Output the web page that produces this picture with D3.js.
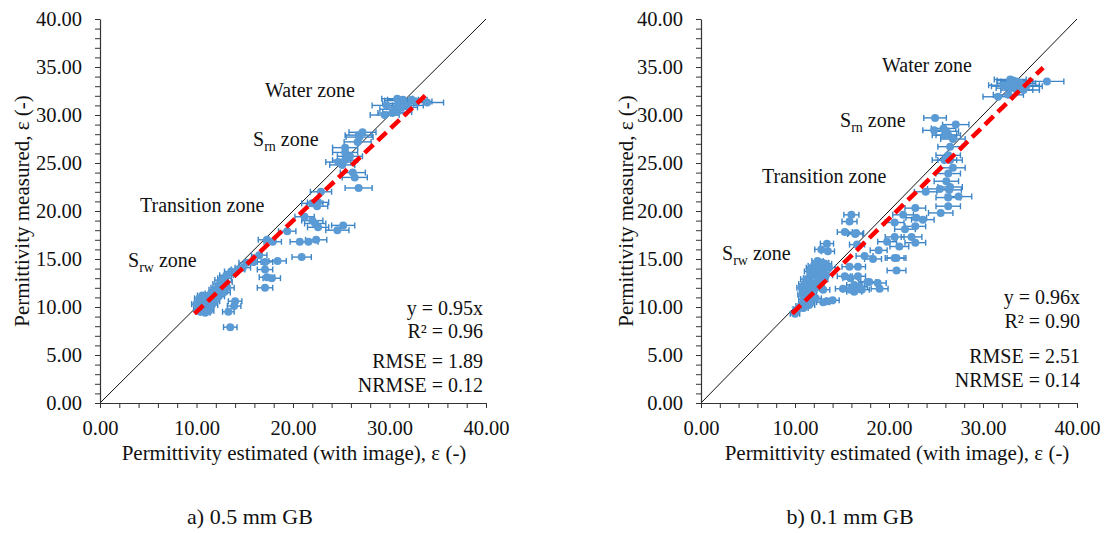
<!DOCTYPE html>
<html>
<head>
<meta charset="utf-8">
<script src="https://cdn.jsdelivr.net/npm/d3@7"></script>
<style>
  html, body { margin: 0; padding: 0; background: #fff; }
  svg { display: block; font-family: "Liberation Serif", "Times New Roman", serif; }
</style>
</head>
<body>
<svg id="chart" width="1117" height="533"></svg>
<script>
// Panel a) 0.5 mm GB: [estimated, measured, estimated error]
const pointsA = [
  [10.0,10.3,0.5],[10.2,9.8,0.5],[10.4,9.5,0.5],[10.5,10.1,0.6],[10.6,10.6,0.6],[10.7,9.9,0.5],
  [10.8,10.8,0.6],[10.9,10.3,0.6],[11.0,11.0,0.6],[11.1,10.5,0.6],[11.2,9.9,0.5],[11.3,11.2,0.6],
  [11.4,10.7,0.6],[11.5,11.4,0.6],[11.6,10.2,0.6],[11.7,11.0,0.6],[11.8,10.6,0.6],[10.3,10.9,0.5],
  [10.6,11.2,0.5],[11.0,9.7,0.5],[11.9,11.8,0.6],[12.1,11.3,0.6],[12.2,12.0,0.7],[12.4,12.4,0.7],
  [12.5,11.6,0.7],[12.6,12.8,0.7],[12.7,12.2,0.7],[12.9,13.0,0.7],[13.0,12.6,0.7],[12.8,11.5,0.7],
  [13.2,12.0,0.7],[12.3,11.1,0.6],[13.1,13.3,0.7],[11.3,9.6,0.5],[10.9,9.4,0.5],
  [13.5,7.9,0.7],[14.0,10.6,0.7],[13.9,10.1,0.7],[13.3,9.5,0.6],
  [13.6,13.7,0.7],[14.3,13.9,0.7],[14.8,14.1,0.8],[15.2,14.6,0.8],[15.9,14.7,0.8],[16.5,15.4,0.8],
  [17.1,14.7,0.8],[18.4,14.8,0.9],[20.9,15.2,1.0],[17.1,13.9,0.8],[17.3,13.1,0.8],[17.8,13.0,0.9],
  [17.1,12.0,0.8],[17.3,17.0,0.9],[17.9,16.8,0.9],[19.4,17.9,0.9],[20.7,16.8,1.0],[21.6,16.8,1.0],
  [22.4,17.0,1.1],[21.2,19.4,1.0],[22.0,19.0,1.1],[22.3,18.7,1.1],[22.6,18.3,1.1],[24.6,18.0,1.2],
  [25.2,18.5,1.2],[22.5,20.5,1.1],[22.6,20.9,1.1],[22.0,20.8,1.1],[22.9,22.0,1.1],
  [26.8,22.4,1.4],[26.4,23.5,1.3],[26.2,24.0,1.3],[25.1,24.8,1.3],[24.7,25.1,1.3],[25.4,25.3,1.3],
  [25.9,25.7,1.3],[25.4,26.1,1.3],[25.4,26.6,1.3],[26.7,27.2,1.4],[26.9,27.7,1.4],[27.2,28.2,1.4],
  [26.8,27.9,1.4],
  [29.5,30.0,1.5],[30.3,30.2,1.5],[30.8,30.3,1.5],[29.7,31.0,1.5],[30.8,31.7,1.6],[31.4,31.6,1.6],
  [32.3,31.6,1.6],[32.8,31.4,1.6],[33.9,31.3,1.7],[31.3,30.8,1.6],[31.9,31.0,1.6],[30.9,31.2,1.6],
  [31.1,31.5,1.6],[30.5,30.6,1.5]
];

// Panel b) 0.1 mm GB: [estimated, measured, estimated error]
const pointsB = [
  [36.8,33.5,1.8],[32.9,33.7,1.7],[33.2,33.3,1.7],[33.6,33.5,1.7],[33.9,33.3,1.7],[34.3,33.1,1.7],
  [34.6,33.0,1.7],[32.5,33.0,1.6],[32.2,33.1,1.6],[31.6,31.9,1.6],[32.7,32.1,1.6],[33.6,32.6,1.7],
  [34.3,32.6,1.7],[33.2,33.6,1.7],[33.0,32.8,1.6],
  [24.9,29.7,1.2],[27.1,29.0,1.4],[24.8,28.4,1.2],[25.8,28.6,1.3],[26.1,28.3,1.3],[25.9,27.9,1.3],
  [26.3,27.9,1.3],[26.8,27.5,1.3],[26.5,26.7,1.3],[26.3,25.8,1.3],[26.5,25.3,1.3],[25.9,25.3,1.3],
  [26.8,24.5,1.3],[26.3,23.9,1.3],[26.1,23.1,1.3],[26.5,22.5,1.3],[25.4,22.3,1.3],[26.4,22.2,1.3],
  [26.3,21.4,1.3],[27.4,21.5,1.4],[26.3,20.5,1.3],[25.5,19.8,1.3],
  [23.9,22.0,1.2],[22.8,20.3,1.1],[21.5,19.6,1.1],[22.9,19.3,1.1],[23.6,19.1,1.2],[20.6,18.8,1.0],
  [21.7,18.1,1.1],[22.8,18.4,1.1],[20.6,17.3,1.0],[22.4,17.3,1.1],[22.8,16.7,1.1],[19.8,16.8,1.0],
  [21.1,16.3,1.0],[18.9,15.9,0.9],[20.6,15.1,1.0],[20.8,15.1,1.0],[20.8,13.8,1.0],[18.3,15.0,0.9],
  [17.4,15.3,0.9],[19.0,11.9,0.9],[17.9,12.6,0.9],[16.6,12.1,0.8],[16.9,12.1,0.8],[16.3,12.3,0.8],
  [16.3,11.6,0.8],[15.1,11.9,0.8],[16.7,13.2,0.8],[16.7,14.2,0.8],[15.8,14.2,0.8],[15.3,13.2,0.8],
  [16.0,19.6,0.8],[15.8,18.9,0.8],[15.3,17.8,0.8],[16.4,17.6,0.8],[16.5,17.7,0.8],[16.6,16.5,0.8],
  [15.9,13.0,0.8],[17.7,12.6,0.9],[18.8,12.5,0.9],[15.9,11.8,0.8],[17.1,11.8,0.8],[14.0,10.7,0.7],
  [13.4,16.6,0.7],[12.8,16.0,0.7],[13.5,15.8,0.7],[13.4,10.6,0.7],[13.0,10.5,0.7],[13.0,11.8,0.7],
  [10.0,9.3,0.5],[10.3,9.8,0.5],[10.6,10.1,0.5],[10.9,9.9,0.5],[11.2,10.3,0.6],[11.0,10.8,0.6],
  [11.4,10.6,0.6],[10.8,11.3,0.5],[11.1,11.7,0.6],[11.3,12.1,0.6],[11.0,12.4,0.6],[11.6,12.6,0.6],
  [11.8,12.0,0.6],[11.5,13.0,0.6],[11.9,13.3,0.6],[12.1,13.6,0.6],[12.3,14.0,0.6],[12.6,14.3,0.7],
  [12.9,14.6,0.7],[12.4,13.1,0.6],[12.2,12.5,0.6],[12.7,13.4,0.7],[13.0,13.9,0.7],[11.7,11.4,0.6],
  [12.0,11.9,0.6],[12.5,12.2,0.6],[11.2,12.9,0.6],[11.6,13.7,0.6],[12.0,14.3,0.6],[12.4,14.8,0.6],
  [13.2,14.5,0.7],[10.9,10.4,0.5],[11.3,11.0,0.6],[12.8,12.9,0.7],[13.3,13.3,0.7],[11.5,10.2,0.6],
  [12.2,10.9,0.6],[13.6,14.1,0.7],[11.8,14.1,0.6],[10.7,12.0,0.5]
];

// Regression slopes (through origin) and the estimated-value span each fit line covers
const slopes = [0.95, 0.96];
const fitRanges = [[9.8, 33.7], [9.7, 36.4]];

// Annotation texts
const captions = ["a) 0.5 mm GB", "b) 0.1 mm GB"];
const statLines = [
  ["y = 0.95x", "R² = 0.96", "RMSE = 1.89", "NRMSE = 0.12"],
  ["y = 0.96x", "R² = 0.90", "RMSE = 2.51", "NRMSE = 0.14"]
];
const zoneLabels = [
  { main: "Water zone" },
  { main: "S", sub: "rn", rest: " zone" },
  { main: "Transition zone" },
  { main: "S", sub: "rw", rest: " zone" }
];
const xTitle = "Permittivity estimated (with image), ε (-)";
const yTitle = "Permittivity measured, ε (-)";

// Axis ticks
const axisDomain = [0, 40];
const yTicks = d3.range(0, 41, 1);
const xTicks = d3.range(0, 41, 2);

// Layout of the two panels
const panels = [
  {
    data: pointsA, slope: slopes[0], fit: fitRanges[0], caption: captions[0], stats: statLines[0],
    left: 100, right: 486, top: 19, bottom: 403,
    yTitleX: 22, xTitleX: 294, captionX: 250,
    zones: [[265, 97], [253, 146], [140, 212], [128, 267]],
    statsX: 483, statsY: [315, 338, 368, 392]
  },
  {
    data: pointsB, slope: slopes[1], fit: fitRanges[1], caption: captions[1], stats: statLines[1],
    left: 701, right: 1077, top: 19, bottom: 403,
    yTitleX: 626, xTitleX: 897, captionX: 850,
    zones: [[882, 72], [840, 127], [762, 183], [722, 260]],
    statsX: 1080, statsY: [304, 328, 363, 387]
  }
];

const svg = d3.select("#chart");
const pointFill = "#5b9bd5";
const barColor = "#3d85c6";

panels.forEach(p => {
  const x = d3.scaleLinear().domain(axisDomain).range([p.left, p.right]);
  const y = d3.scaleLinear().domain(axisDomain).range([p.bottom, p.top]);
  const g = svg.append("g");

  // 1:1 line
  g.append("line")
    .attr("x1", x(0)).attr("y1", y(0)).attr("x2", x(40)).attr("y2", y(40))
    .attr("stroke", "#111").attr("stroke-width", 1);

  // Horizontal error bars with caps
  const bars = g.append("g").attr("stroke", barColor).attr("stroke-width", 1.4);
  p.data.forEach(d => {
    const x0 = x(d[0] - d[2]), x1 = x(d[0] + d[2]), yy = y(d[1]);
    bars.append("line").attr("x1", x0).attr("x2", x1).attr("y1", yy).attr("y2", yy);
    bars.append("line").attr("x1", x0).attr("x2", x0).attr("y1", yy - 3).attr("y2", yy + 3);
    bars.append("line").attr("x1", x1).attr("x2", x1).attr("y1", yy - 3).attr("y2", yy + 3);
  });

  // Points
  g.append("g").selectAll("circle").data(p.data).join("circle")
    .attr("cx", d => x(d[0])).attr("cy", d => y(d[1])).attr("r", 4)
    .attr("fill", pointFill);

  // Regression line
  g.append("line")
    .attr("x1", x(p.fit[0])).attr("y1", y(p.slope * p.fit[0]))
    .attr("x2", x(p.fit[1])).attr("y2", y(p.slope * p.fit[1]))
    .attr("stroke", "#ff0000").attr("stroke-width", 4.5)
    .attr("stroke-dasharray", "12,6");

  // Y axis
  const yAxis = g.append("g").attr("transform", `translate(${p.left},0)`)
    .call(d3.axisLeft(y).tickValues(yTicks).tickSize(5).tickSizeOuter(0).tickPadding(13)
      .tickFormat(v => v % 5 === 0 ? d3.format(".2f")(v) : ""));
  // X axis
  const xAxis = g.append("g").attr("transform", `translate(0,${p.bottom})`)
    .call(d3.axisBottom(x).tickValues(xTicks).tickSize(5).tickSizeOuter(0)
      .tickFormat(v => v % 10 === 0 ? d3.format(".2f")(v) : ""));
  [yAxis, xAxis].forEach(a => {
    a.select(".domain").attr("stroke", "#333").attr("stroke-width", 1.2);
    a.selectAll(".tick line").attr("stroke", "#333").attr("stroke-width", 1);
    a.selectAll(".tick text").attr("font-size", 20.5).attr("fill", "#111")
      .attr("font-family", "Liberation Serif, Times New Roman, serif");
  });
  xAxis.selectAll(".tick text").attr("dy", null).attr("y", 32);

  // Axis titles
  g.append("text").attr("x", p.xTitleX).attr("y", 460).attr("text-anchor", "middle")
    .attr("font-size", 21).attr("fill", "#111").text(xTitle);
  g.append("text").attr("transform", `translate(${p.yTitleX + 7},211) rotate(-90)`)
    .attr("text-anchor", "middle").attr("font-size", 21).attr("fill", "#111").text(yTitle);

  // Zone labels
  zoneLabels.forEach((z, i) => {
    const t = g.append("text").attr("x", p.zones[i][0]).attr("y", p.zones[i][1])
      .attr("font-size", 20).attr("fill", "#111");
    t.append("tspan").text(z.main);
    if (z.sub) {
      t.append("tspan").attr("font-size", 14).attr("dy", 5).text(z.sub);
      t.append("tspan").attr("dy", -5).text(z.rest);
    }
  });

  // Fit statistics
  p.stats.forEach((s, i) => {
    g.append("text").attr("x", p.statsX).attr("y", p.statsY[i]).attr("text-anchor", "end")
      .attr("font-size", 20).attr("fill", "#111").text(s);
  });

  // Caption
  g.append("text").attr("x", p.captionX).attr("y", 524).attr("text-anchor", "middle")
    .attr("font-size", 22).attr("fill", "#111").text(p.caption);
});
</script>
</body>
</html>
